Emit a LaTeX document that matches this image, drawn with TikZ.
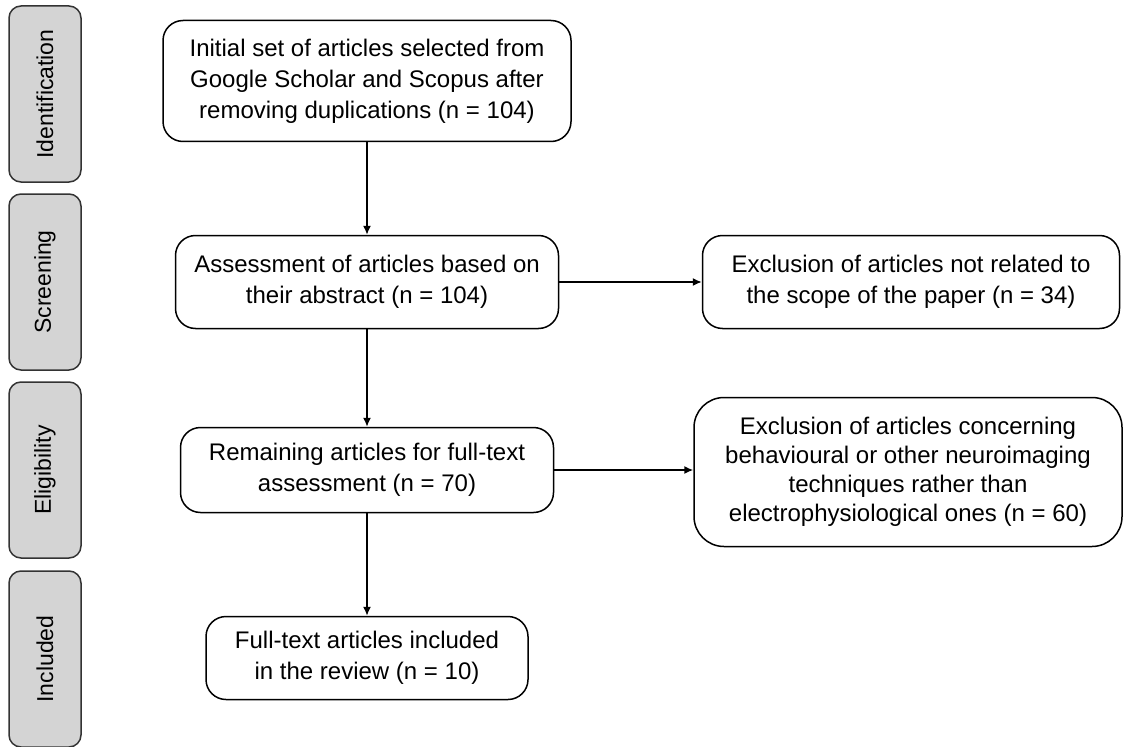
\documentclass[tikz,border=0pt]{standalone}
\usepackage{fontspec}
\setmainfont{Liberation Sans}
\usetikzlibrary{arrows.meta}
\definecolor{stagegray}{RGB}{212,212,212}
\tikzset{ b/.style = { rectangle
                       , draw
                       , rounded corners = 20pt
                       , line width   = 1.5pt
                       , align        = center
                       , inner sep    = 0pt
                       , font         = \fontsize{24}{31}\selectfont
                       },
            s/.style = { rectangle
            , draw = black!80
            , fill = stagegray
            , rounded corners = 12pt
            , line width   = 1.5pt
            , rotate       = 90
            , inner sep    = 0pt
            , minimum width  = 176pt
            , minimum height = 72pt
            , font         = \fontsize{23}{28}\selectfont
            },
            arr/.style = { -{Latex[length=9pt,width=8pt]}
            , line width = 1.5pt
            }
          }
\begin{document}
\begin{tikzpicture}[x=1pt,y=-1pt]
            \useasboundingbox (0,0) rectangle (1123,746);
            % stages
            \node[s] (ident) at (45,94)  {Identification};
            \node[s] (scr)   at (45,282) {Screening};
            \node[s] (elig)  at (45,470) {Eligibility};
            \node[s] (incl)  at (45,659) {Included};
            % main column
            \node[b, minimum width=408pt, minimum height=121pt] (init) at (367,81)
                {Initial set of articles selected from\\Google Scholar and Scopus after\\removing duplications (n = 104)};
            \node[b, minimum width=383pt, minimum height=93pt] (assess) at (367,282)
                {Assessment of articles based on\\their abstract (n = 104)};
            \node[b, minimum width=373pt, minimum height=85pt] (remain) at (367,470)
                {Remaining articles for full-text\\assessment (n = 70)};
            \node[b, minimum width=322pt, minimum height=83pt] (full) at (367,658)
                {Full-text articles included\\in the review (n = 10)};
            % exclusions
            \node[b, minimum width=417pt, minimum height=93pt] (excl1) at (911,282)
                {Exclusion of articles not related to\\the scope of the paper (n = 34)};
            \node[b, rounded corners=30pt, minimum width=428pt, minimum height=149pt,
                  font=\fontsize{24}{29}\selectfont] (excl2) at (908,472)
                {Exclusion of articles concerning\\behavioural or other neuroimaging\\techniques rather than\\electrophysiological ones (n = 60)};
            \draw[arr] (init) -- (assess);
            \draw[arr] (assess) -- (remain);
            \draw[arr] (remain) -- (full);
            \draw[arr] (assess) -- (excl1);
            \draw[arr] (remain) -- (remain -| excl2.west);
            \end{tikzpicture}
\end{document}
